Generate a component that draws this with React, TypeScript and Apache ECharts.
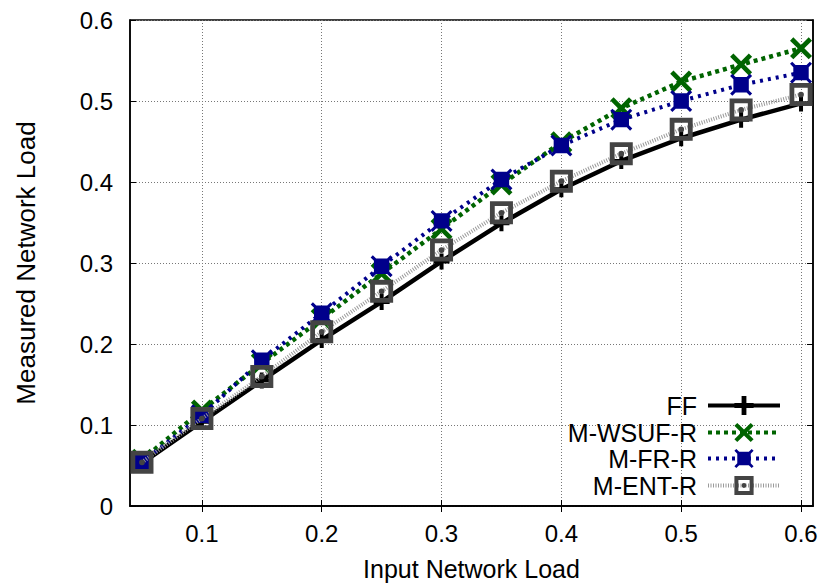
import React, { useEffect, useRef } from "react";
import * as echarts from "echarts";

const xLoads = [0.05, 0.1, 0.15, 0.2, 0.25, 0.3, 0.35, 0.4, 0.45, 0.5, 0.55, 0.6];
const ffValues = [0.053, 0.104, 0.155, 0.205, 0.252, 0.302, 0.349, 0.391, 0.426, 0.454, 0.477, 0.497];
const wsufValues = [0.057, 0.118, 0.176, 0.231, 0.287, 0.342, 0.397, 0.449, 0.491, 0.524, 0.545, 0.565];
const frValues = [0.054, 0.112, 0.18, 0.238, 0.296, 0.352, 0.403, 0.445, 0.477, 0.5, 0.52, 0.535];
const entValues = [0.054, 0.108, 0.16, 0.215, 0.265, 0.316, 0.362, 0.401, 0.435, 0.465, 0.489, 0.508];
const xTicks = [0.1, 0.2, 0.3, 0.4, 0.5, 0.6];
const seriesNames = ["FF", "M-WSUF-R", "M-FR-R", "M-ENT-R"];

const FONT = "Liberation Sans, Arial, Helvetica, sans-serif";

const plusPath = "path://M6,0 L10,0 L10,6 L16,6 L16,10 L10,10 L10,16 L6,16 L6,10 L0,10 L0,6 L6,6 Z";
const xPath = "path://M0,3 L3,0 L10,7 L17,0 L20,3 L13,10 L20,17 L17,20 L10,13 L3,20 L0,17 L7,10 Z";
const blobPath = "path://M2,0 L5,3 L15,3 L18,0 L20,2 L17,5 L17,15 L20,18 L18,20 L15,17 L5,17 L2,20 L0,18 L3,15 L3,5 L0,2 Z";
const boxPath = "path://M0,0 L24,0 L24,24 L0,24 Z M5,5 L5,19 L19,19 L19,5 Z M9,12 A3,3 0 1 1 15,12 A3,3 0 1 1 9,12 Z";

function pairs(vals: number[]) {
  return xLoads.map((x, i) => [x, vals[i]]);
}

export default function App() {
  const ref = useRef<HTMLDivElement>(null);
  useEffect(() => {
    if (!ref.current) return;
    const chart = echarts.init(ref.current, null, { renderer: "svg" });
    const gridLine = { show: true, lineStyle: { color: "#777", type: [1, 2] as any, width: 1 } };
    const legendTops = [393, 420, 446, 473];
    chart.setOption({
      animation: false,
      backgroundColor: "#fff",
      textStyle: { fontFamily: FONT },
      grid: {
        left: 130, top: 20, right: 12, bottom: 78,
        outerBoundsMode: "none",
        containLabel: false,
        show: true, borderColor: "#000", borderWidth: 1.5, backgroundColor: "transparent",
      },
      legend: seriesNames.map((n, i) => ({
        data: [n],
        right: 43,
        top: legendTops[i],
        align: "right",
        itemWidth: 72,
        itemHeight: 24,
        padding: 0,
        itemGap: 14,
        lineStyle: { width: 4 },
        textStyle: { fontSize: 25, lineHeight: 25, color: "#000", fontFamily: FONT, padding: [0, 6, 0, 0] },
        selectedMode: false,
      })),
      xAxis: [
        {
          type: "value",
          min: 0.04,
          max: 0.61,
          name: "Input Network Load",
          nameLocation: "middle",
          nameGap: 50,
          nameTextStyle: { fontSize: 25, lineHeight: 25, color: "#000", fontFamily: FONT },
          axisLine: { show: true, lineStyle: { color: "#000", width: 1.5 } },
          axisTick: { show: true, inside: true, length: 6, customValues: xTicks, lineStyle: { color: "#000" } },
          axisLabel: { customValues: xTicks, fontSize: 24, color: "#000", margin: 15, fontFamily: FONT },
          splitLine: gridLine,
        },
        {
          type: "value",
          position: "top",
          min: 0.04,
          max: 0.61,
          axisLine: { show: true, lineStyle: { color: "#000", width: 1.5 } },
          axisTick: { show: true, inside: true, length: 6, customValues: xTicks, lineStyle: { color: "#000" } },
          axisLabel: { show: false },
          splitLine: { show: false },
        },
      ],
      yAxis: [
        {
          type: "value",
          min: 0,
          max: 0.6,
          interval: 0.1,
          name: "Measured Network Load",
          nameLocation: "middle",
          nameGap: 91,
          nameTextStyle: { fontSize: 26, color: "#000", fontFamily: FONT },
          axisLine: { show: true, lineStyle: { color: "#000", width: 1.5 } },
          axisTick: { show: true, inside: true, length: 6, lineStyle: { color: "#000" } },
          axisLabel: { fontSize: 24, color: "#000", margin: 17, fontFamily: FONT },
          splitLine: gridLine,
        },
        {
          type: "value",
          position: "right",
          min: 0,
          max: 0.6,
          interval: 0.1,
          axisLine: { show: true, lineStyle: { color: "#000", width: 1.5 } },
          axisTick: { show: true, inside: true, length: 6, lineStyle: { color: "#000" } },
          axisLabel: { show: false },
          splitLine: { show: false },
        },
      ],
      series: [
        {
          name: "FF",
          type: "line",
          data: pairs(ffValues),
          symbol: plusPath,
          symbolSize: 16,
          lineStyle: { color: "#000", width: 4.5, type: "solid" },
          itemStyle: { color: "#000" },
          z: 2,
        },
        {
          name: "M-WSUF-R",
          type: "line",
          data: pairs(wsufValues),
          symbol: xPath,
          symbolSize: 22,
          lineStyle: { color: "#006400", width: 4.5, type: [4, 4] as any },
          itemStyle: { color: "#006400" },
          z: 3,
        },
        {
          name: "M-FR-R",
          type: "line",
          data: pairs(frValues),
          symbol: blobPath,
          symbolSize: 22,
          lineStyle: { color: "#00008b", width: 4, type: [3, 5] as any },
          itemStyle: { color: "#00008b" },
          z: 4,
        },
        {
          name: "M-ENT-R",
          type: "line",
          data: pairs(entValues),
          symbol: boxPath,
          symbolSize: 23,
          lineStyle: { color: "#9a9a9a", width: 4, type: [1, 1.5] as any },
          itemStyle: { color: "#444" },
          z: 5,
        },
      ],
    });
    return () => chart.dispose();
  }, []);
  return <div ref={ref} style={{ position: "fixed", left: 0, top: 0, width: 825, height: 584 }} />;
}
